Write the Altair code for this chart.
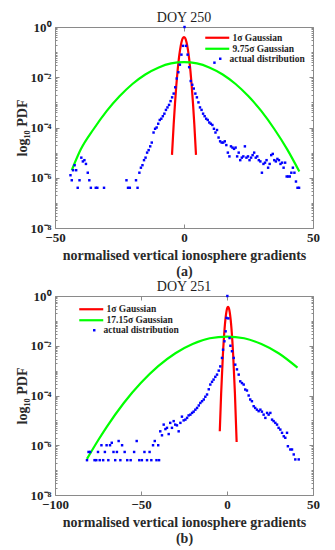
import altair as alt
import pandas as pd
import numpy as np

# ---------------- Panel (a): DOY 250 ----------------
a_dot_x = [-44.0, -43.5, -43.0, -42.4, -41.8, -41.2, -40.5, -39.8, -39.2, -38.6, -38.0, -37.3,
           -36.7, -36.1, -34.2, -33.6, -31.0,
           -22.3, -21.7, -21.0, -18.6, -18.0, -17.3, -16.7, -16.1, -15.5, -14.9, -14.3, -13.7,
           -13.1, -12.5, -11.8, -11.2, -10.6, -10.0, -9.4, -8.8, -8.2, -7.6, -7.0, -6.4, -5.8,
           -5.2, -4.6, -4.0, -3.4, -2.8, -2.2, -1.6, -1.0, -0.4, 0.2, 0.8, 1.4, 2.0, 2.6, 3.2,
           3.8, 4.4, 5.0, 5.6, 6.2, 6.8, 7.4, 8.0, 8.6, 9.2, 9.8, 10.4, 11.0, 11.6, 11.8, 12.2,
           12.8, 13.4, 14.0, 14.6, 15.2, 15.8, 16.4, 17.0, 17.6, 18.2, 18.8, 19.4, 20.0, 20.6,
           21.2, 21.8, 22.4, 23.0, 23.6, 24.2, 24.8, 25.4, 26.0, 26.6, 27.2, 27.8, 28.4, 29.0,
           29.6, 30.2, 30.8, 31.4, 32.0, 32.6, 33.2, 33.8, 34.4, 35.0, 35.6, 36.2, 36.8, 37.4,
           38.0, 38.6, 39.2, 39.8, 40.4, 41.0, 41.6, 42.2, 42.8, 43.4, 44.0, 44.6]
a_dot_log = [-5.9, -6.1, -5.7, -5.5, -5.7, -6.4, -6.1, -5.2, -5.35, -5.3, -5.45, -5.8,
             -6.1, -6.4, -6.4, -6.4, -6.4,
             -6.1, -6.4, -6.4, -6.1, -6.4, -5.8, -5.6, -5.5, -5.3, -5.2, -5.0, -4.9,
             -4.75, -4.6, -4.2, -4.05, -4.0, -3.85, -3.7, -3.65, -3.55, -3.45, -3.3, -3.2, -3.1,
             -2.95, -2.8, -2.65, -2.4, -2.05, -1.8, -1.5, -1.1, -0.75, 0.0, -0.75, -1.1, -1.6,
             -2.15, -2.3, -2.45, -2.65, -2.8, -3.0, -3.2, -3.3, -3.45, -3.55, -3.65, -3.7, -3.8,
             -3.85, -3.9, -4.05, -1.42, -4.2, -4.1, -4.4, -4.55, -4.6, -4.6, -4.55, -4.7, -5.0,
             -5.15, -4.75, -4.8, -4.85, -4.8, -5.15, -5.0, -5.3, -5.2, -5.15, -4.75, -5.2, -5.15,
             -5.3, -5.2, -5.1, -5.0, -5.2, -5.15, -5.3, -5.35, -5.8, -5.45, -5.4, -5.3, -5.6,
             -5.45, -5.1, -5.05, -5.3, -5.35, -5.25, -5.3, -5.45, -5.4, -5.6, -5.4, -5.95, -5.95,
             -5.95, -5.8, -5.6, -5.8, -6.15, -6.4, -6.4]
a_red_x = [-4.65, -4.0, -3.5, -3.0, -2.5, -2.0, -1.5, -1.0, -0.5, 0.0, 0.5, 1.0, 1.5, 2.0,
           2.5, 3.0, 3.5, 4.0, 4.65]
a_red_log = [-5.09, -3.87, -3.06, -2.35, -1.76, -1.27, -0.89, -0.62, -0.45, -0.40, -0.45, -0.62,
             -0.89, -1.27, -1.76, -2.35, -3.06, -3.87, -5.09]
a_green_x = [-43.5, -40, -35, -30, -25, -20, -15, -10, -5, 0, 5, 10, 15, 20, 25, 30, 35, 40, 44.7]
a_green_log = [-5.7, -4.87, -4.06, -3.35, -2.76, -2.27, -1.89, -1.62, -1.45, -1.40, -1.45, -1.62,
               -1.89, -2.27, -2.76, -3.35, -4.06, -4.87, -5.75]

# ---------------- Panel (b): DOY 251 ----------------
b_dot_x = [-81.4, -80.5, -79.6, -77.0, -76.0, -75.0, -74.0, -73.0, -72.0, -71.0, -70.0, -69.0,
           -68.0, -67.0, -66.0, -65.0, -64.0, -63.0, -62.0, -61.0, -59.5, -58.0, -56.0, -54.0,
           -52.5, -51.0, -49.5, -48.0, -46.5, -45.0, -44.0, -43.0, -42.0, -41.0, -40.0, -39.5,
           -38.8, -37.8, -36.8, -35.8, -34.9, -33.9, -33.0, -32.0, -31.0, -30.1, -29.1, -28.1,
           -27.1, -26.2, -25.2, -24.2, -23.2, -22.3, -21.3, -20.3, -19.4, -18.4, -17.4, -16.4,
           -15.5, -14.5, -13.5, -12.6, -11.6, -10.6, -9.7, -8.7, -7.8, -6.8, -5.8, -4.8, -3.9,
           -2.9, -2.3, -1.5, -0.8, -0.3, 0.2, 0.8, 1.5, 2.0, 2.9, 3.9, 4.8, 5.8, 6.8, 7.7, 8.7,
           9.7, 10.6, 11.6, 12.6, 13.5, 14.5, 15.5, 16.4, 17.4, 18.4, 19.4, 20.3, 21.3, 22.3,
           23.3, 24.2, 25.2, 26.2, 27.1, 28.1, 29.1, 30.0, 31.0, 32.0, 33.0, 33.9, 34.9, 35.4,
           36.8, 37.8, 38.8, 39.7, 41.7]
b_dot_log = [-6.6, -6.27, -6.27, -6.6, -6.6, -6.27, -6.6, -6.0, -6.6, -6.27, -6.0, -6.6,
             -6.0, -5.9, -6.27, -6.6, -6.27, -5.83, -6.6, -6.0, -6.27, -6.6, -6.6, -6.27,
             -5.83, -6.6, -6.6, -6.27, -6.6, -6.27, -6.6, -6.0, -5.83, -6.6, -6.0, -6.6,
             -5.44, -5.6, -5.17, -5.35, -5.3, -5.55, -5.1, -5.3, -5.03, -5.17, -5.2, -5.44,
             -5.1, -4.85, -5.0, -4.97, -4.9, -4.8, -4.77, -4.7, -4.65, -4.57, -4.5, -4.4,
             -4.3, -4.23, -4.16, -4.05, -3.96, -3.75, -3.56, -3.45, -3.36, -3.25, -3.16, -3.0,
             -2.83, -2.49, -2.16, -1.82, -1.42, -0.88, 0.0, -0.9, -1.69, -2.0, -2.22, -2.49,
             -2.76, -2.95, -3.16, -3.43, -3.5, -3.56, -3.76, -3.8, -4.0, -4.16, -4.23, -4.43,
             -4.5, -4.57, -4.63, -4.57, -4.65, -4.77, -4.9, -4.7, -4.77, -4.7, -4.97, -5.03,
             -5.1, -5.17, -5.3, -5.37, -5.5, -5.64, -5.7, -5.5, -6.04, -6.17, -6.17, -6.37,
             -6.57, -6.57]
b_red_x = [-4.2, -3.4, -2.4, -1.4, -0.9, -0.4, 0.1, 0.6, 1.1, 1.6, 2.1, 2.6, 3.6, 4.6, 5.6]
b_red_log = [-5.44, -3.91, -2.39, -1.31, -0.93, -0.66, -0.49, -0.44, -0.49, -0.66, -0.93, -1.31,
             -2.39, -3.91, -5.87]
b_green_x = [-81.4, -75, -70, -60, -50, -40, -30, -20, -10, 0, 10, 20, 30, 41]
b_green_log = [-6.55, -5.81, -5.27, -4.30, -3.49, -2.82, -2.30, -1.93, -1.70, -1.63, -1.70, -1.93,
               -2.30, -2.88]

FONT = "Liberation Serif"
BLUE, RED, GREEN = "#0000ff", "#ff0000", "#00ff00"
FRAME = "#8a8a8a"
TXT = "#1e1e1e"

MAJOR_Y = [-8, -6, -4, -2, 0]
MINOR_Y = [round(n + np.log10(k), 4) for n in range(-8, 0) for k in range(2, 11)
           if not (k == 10 and (n + 1) % 2 == 0)]
Y_LABELS = ("datum.value == 0 ? '10⁰' : datum.value == -2 ? '10⁻²' : "
            "datum.value == -4 ? '10⁻⁴' : datum.value == -6 ? '10⁻⁶' : '10⁻⁸'")


def panel(title, caption, dx, dy, rx, ry, gx, gy, glabel, xdom, xticks, h, leg_xy, dot_xy):
    dots = pd.DataFrame({"x": dx, "y": dy, "s": "actual distribution"})
    lines = pd.concat([
        pd.DataFrame({"x": rx, "y": ry, "s": "1σ Gaussian"}),
        pd.DataFrame({"x": gx, "y": gy, "s": glabel}),
    ])
    xs = alt.Scale(domain=xdom, nice=False, zero=False)
    ys = alt.Scale(domain=[-8, 0], nice=False, zero=False)

    tick_common = dict(grid=False, domain=False, tickColor=FRAME, tickWidth=1)

    x_bottom = alt.Axis(orient="bottom", values=xticks, tickSize=4, offset=-4, labelPadding=3,
                        labelFont=FONT, labelFontSize=13, labelFontWeight="bold", labelColor=TXT,
                        title=["normalised vertical ionosphere gradients", caption],
                        titleFont=FONT, titleFontSize=14, titleFontWeight="bold", titleColor="#2a2a2a",
                        titlePadding=4, titleLineHeight=16, labelFlush=False, **tick_common)
    x_top = alt.Axis(orient="top", values=xticks, tickSize=4, offset=-4, labels=False, title=None,
                     **tick_common)
    y_left = alt.Axis(orient="left", values=MAJOR_Y, tickSize=4, offset=-4, labelPadding=4,
                      labelExpr=Y_LABELS, labelFont=FONT, labelFontSize=13, labelFontWeight="bold",
                      labelColor=TXT, title="log₁₀ PDF", titleFont=FONT, titleFontSize=14,
                      titleFontWeight="bold", titleColor="#2a2a2a", titlePadding=1, **tick_common)
    y_right = alt.Axis(orient="right", values=MAJOR_Y, tickSize=4, offset=-4, labels=False,
                       title=None, **tick_common)
    y_left_minor = alt.Axis(orient="left", values=MINOR_Y, tickSize=2, offset=-2, labels=False,
                            title=None, **tick_common)
    y_right_minor = alt.Axis(orient="right", values=MINOR_Y, tickSize=2, offset=-2, labels=False,
                             title=None, **tick_common)

    line_layer = alt.Chart(lines).mark_line(strokeWidth=2.2, interpolate="monotone").encode(
        x=alt.X("x:Q", scale=xs, axis=x_top),
        y=alt.Y("y:Q", scale=ys, axis=y_right),
        color=alt.Color("s:N", scale=alt.Scale(domain=["1σ Gaussian", glabel], range=[RED, GREEN]),
                        legend=alt.Legend(title=None, orient="none", legendX=leg_xy[0], legendY=leg_xy[1],
                                          symbolType="M-4,0H4", symbolSize=36, symbolStrokeWidth=2.2,
                                          labelFont=FONT, labelFontSize=9.5, labelFontWeight="bold",
                                          labelColor=TXT, labelOffset=10.5, rowPadding=0, padding=0)),
        detail="s:N",
    )
    dot_layer = alt.Chart(dots).mark_point(filled=True, size=6, color=BLUE, opacity=1).encode(
        x=alt.X("x:Q", scale=xs, axis=x_bottom),
        y=alt.Y("y:Q", scale=ys, axis=y_left),
        shape=alt.Shape("s:N", scale=alt.Scale(domain=["actual distribution"], range=["square"]),
                        legend=alt.Legend(title=None, orient="none", legendX=dot_xy[0], legendY=dot_xy[1],
                                          symbolType="square", symbolSize=6, symbolFillColor=BLUE,
                                          symbolStrokeColor=BLUE, symbolStrokeWidth=0,
                                          labelFont=FONT, labelFontSize=9.5, labelFontWeight="bold",
                                          labelColor=TXT, labelOffset=4.5, padding=0)),
    )
    minor_l = alt.Chart(dots).mark_point(opacity=0).encode(
        x=alt.X("x:Q", scale=xs, axis=None), y=alt.Y("y:Q", scale=ys, axis=y_left_minor))
    minor_r = alt.Chart(dots).mark_point(opacity=0).encode(
        x=alt.X("x:Q", scale=xs, axis=None), y=alt.Y("y:Q", scale=ys, axis=y_right_minor))

    return alt.layer(minor_l, minor_r, line_layer, dot_layer).resolve_axis(
        x="independent", y="independent").resolve_legend(
        color="independent", shape="independent").properties(
        width=258, height=h,
        title=alt.TitleParams(text=title, font=FONT, fontSize=14, fontWeight="normal", color=TXT, offset=-4),
    )


pa = panel("DOY 250", "(a)", a_dot_x, a_dot_log, a_red_x, a_red_log, a_green_x, a_green_log,
           "9.75σ Gaussian", [-50, 50], [-50, 0, 50], 201, (157.5, 6), (160.5, 27))
pb = panel("DOY 251", "(b)", b_dot_x, b_dot_log, b_red_x, b_red_log, b_green_x, b_green_log,
           "17.15σ Gaussian", [-100, 50], [-100, -50, 0, 50], 199, (31.5, 8.5), (34.5, 29.5))

chart = alt.vconcat(pa, pb, spacing=0).resolve_scale(
    color="independent", shape="independent").resolve_legend(
    color="independent", shape="independent").configure(
    padding={"left": 6, "top": 2, "right": 0, "bottom": 0}
).configure_view(stroke=FRAME, strokeWidth=1)

chart.save("out.html", embed_options={"renderer": "svg", "actions": False})
